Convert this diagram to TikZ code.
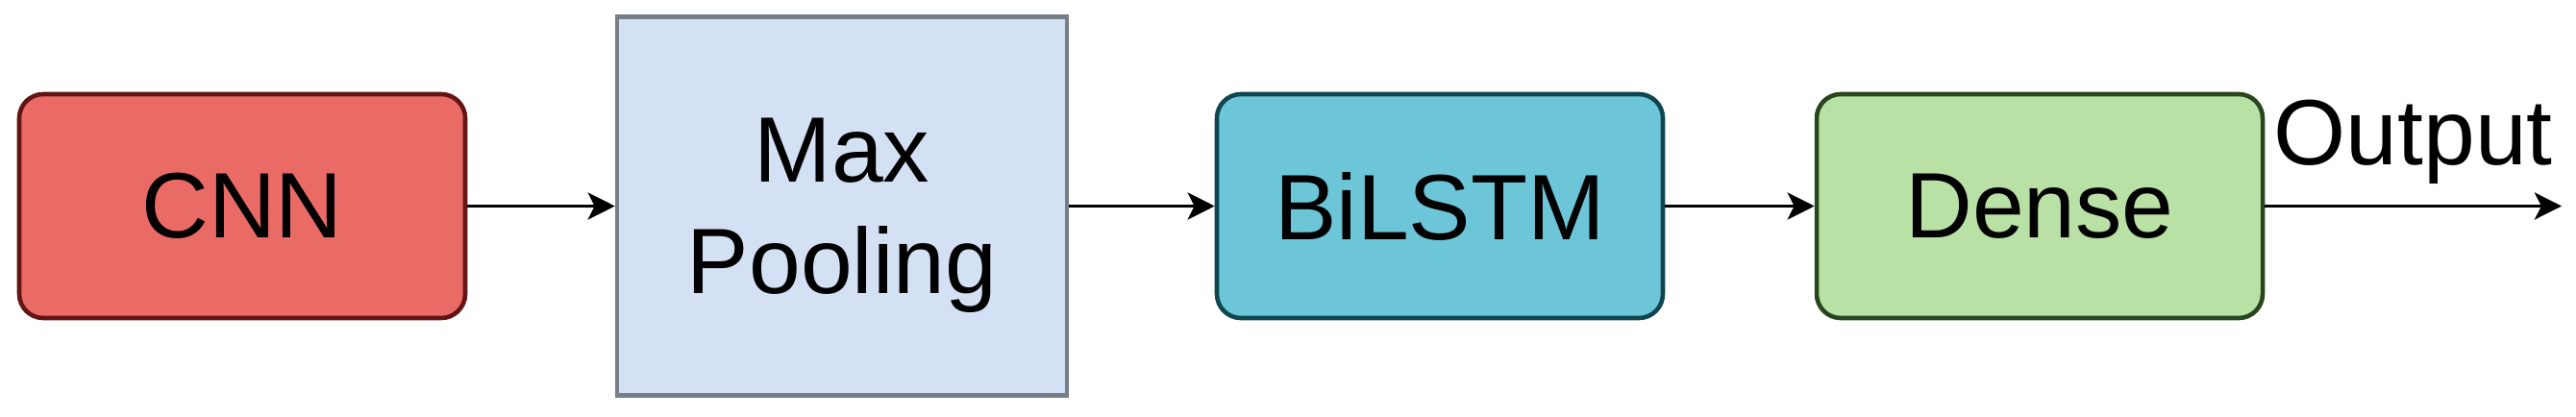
\documentclass[tikz,border=0pt]{standalone}
\usepackage{fontspec}
\setmainfont{Liberation Sans}
\usepackage{tikz}
\usetikzlibrary{arrows.meta,positioning}
\usepackage{xcolor}
\definecolor{cnnred}{RGB}{234,107,102}
\definecolor{cnnline}{RGB}{100,20,20}
\definecolor{poolblue}{RGB}{212,225,245}
\definecolor{poolline}{RGB}{118,126,138}
\definecolor{lstmcyan}{RGB}{108,198,216}
\definecolor{lstmline}{RGB}{16,70,80}
\definecolor{densegreen}{RGB}{185,224,165}
\definecolor{denseline}{RGB}{40,70,30}

\begin{document}
\begin{tikzpicture}[
    layer/.style={rectangle, rounded corners=0.25cm, draw, line width=1.3pt,
                  minimum width=4.64cm, minimum height=2.33cm,
                  font=\fontsize{27.5}{33}\selectfont},
    flow/.style={-{Stealth[length=8pt,width=8pt,inset=2pt]}, line width=1pt},
]
\useasboundingbox (0,0) rectangle (26.8,4.33);

% layers
\node[layer, fill=cnnred, draw=cnnline] (cnn) at (2.52, 2.185) {CNN};
\node[layer, sharp corners, fill=poolblue, draw=poolline, minimum width=4.68cm,
      minimum height=3.94cm, text depth=0pt, align=center] (pool) at (8.76, 2.185) {Max\\Pooling};
\node[layer, fill=lstmcyan, draw=lstmline] (lstm) at (14.98, 2.185) {BiLSTM};
\node[layer, fill=densegreen, draw=denseline] (dense) at (21.22, 2.185) {Dense};
\coordinate (out) at (26.65, 2.185);

% connections
\draw[flow] (cnn) -- (pool);
\draw[flow] (pool) -- (lstm);
\draw[flow] (lstm) -- (dense);
\draw[flow] (dense) -- (out)
    node[midway, above, inner sep=6pt, font=\fontsize{27.5}{33}\selectfont] {Output};

\end{tikzpicture}
\end{document}
